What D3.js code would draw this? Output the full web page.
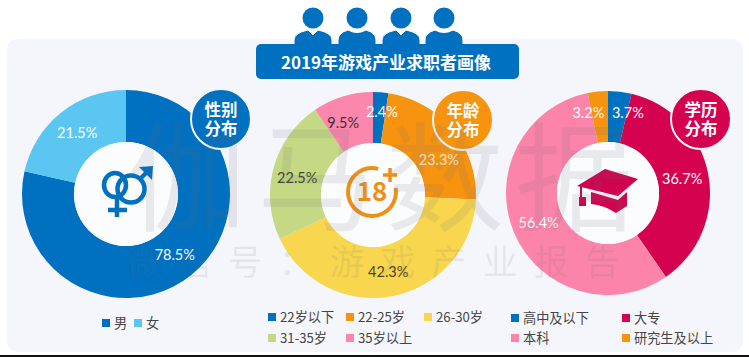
<!DOCTYPE html>
<html>
<head>
	<meta charset="utf-8">
	<title>2019年游戏产业求职者画像</title>
	<script src="https://d3js.org/d3.v7.min.js"></script>
	<style>
		html, body { margin: 0; padding: 0; background: #fff; }
		svg { display: block; }
		text { font-family: "Noto Sans CJK SC", "Noto Sans", sans-serif; }
	</style>
</head>
<body>
	<div class="chart"></div>

	<script type="text/javascript">
		// 数据
		var title = '2019年游戏产业求职者画像'
		var genderLabels = ['男', '女']
		var genderValues = [78.5, 21.5]
		var genderColors = ['#0070c0', '#5cc6f2']

		var ageLabels = ['22岁以下', '22-25岁', '26-30岁', '31-35岁', '35岁以上']
		var ageValues = [2.4, 23.3, 42.3, 22.5, 9.5]
		var ageColors = ['#0070c0', '#f6930f', '#f8d64e', '#c5d985', '#fb87ac']

		var eduLabels = ['高中及以下', '大专', '本科', '研究生及以上']
		var eduValues = [3.7, 36.7, 56.4, 3.2]
		var eduColors = ['#0070c0', '#d4024f', '#fc84aa', '#f6930f']

		var width = 749
		var height = 357

		var svg = d3
			.select('.chart')
			.append('svg')
			.attr('width', width)
			.attr('height', height)

		// 底板
		svg.append('rect')
			.attr('x', 7)
			.attr('y', 39)
			.attr('width', 736)
			.attr('height', 313)
			.attr('rx', 10)
			.attr('fill', '#f5f6fc')
		svg.append('rect')
			.attr('x', 0)
			.attr('y', 355)
			.attr('width', width)
			.attr('height', 2)
			.attr('fill', '#111')

		// 环形图
		function drawDonut(conf) {
			var g = svg.append('g').attr('transform', `translate(${conf.cx}, ${conf.cy})`)
			var pie = d3.pie().sort(null).value(d => d)
			var arc = d3.arc().innerRadius(conf.inner).outerRadius(conf.outer)

			g.selectAll('path')
				.data(pie(conf.values))
				.enter()
				.append('path')
				.attr('d', arc)
				.attr('fill', (d, i) => conf.colors[i])

			g.append('circle').attr('r', conf.inner).attr('fill', '#fbfcfe')

			g.selectAll('text')
				.data(pie(conf.values))
				.enter()
				.append('text')
				.attr('x', (d, i) => arc.centroid(d)[0] + conf.nudge[i][0])
				.attr('y', (d, i) => arc.centroid(d)[1] + conf.nudge[i][1])
				.attr('dy', '0.35em')
				.attr('text-anchor', 'middle')
				.style('font-family', 'Lato, sans-serif')
				.style('font-size', '14.5px')
				.style('fill', (d, i) => conf.textColors[i])
				.text(d => d.value + '%')
			return g
		}

		function drawBadge(x, y, color, line1, line2) {
			var g = svg.append('g').attr('transform', `translate(${x}, ${y})`)
			g.append('circle').attr('r', 30).attr('fill', color).attr('stroke', '#f5f6fc').attr('stroke-width', 2)
			g.selectAll('text')
				.data([line1, line2])
				.enter()
				.append('text')
				.attr('y', (d, i) => i === 0 ? -3 : 16)
				.attr('text-anchor', 'middle')
				.style('font-size', '16.5px')
				.style('font-weight', 700)
				.style('fill', '#fff')
				.text(d => d)
		}

		function drawLegend(items, colors, xs, ys) {
			var g = svg.append('g')
			items.forEach((name, i) => {
				g.append('rect')
					.attr('x', xs[i])
					.attr('y', ys[i] - 4)
					.attr('width', 8)
					.attr('height', 8)
					.attr('fill', colors[i])
				g.append('text')
					.attr('x', xs[i] + 12)
					.attr('y', ys[i])
					.attr('dy', '0.35em')
					.style('font-size', '13.2px')
					.style('fill', '#444')
					.text(name)
			})
		}

		var g1 = drawDonut({
			cx: 126, cy: 194, outer: 104, inner: 52,
			values: genderValues, colors: genderColors,
			textColors: ['#fff', '#fff'],
			nudge: [[0, 0], [0, 0]]
		})
		var g2 = drawDonut({
			cx: 373, cy: 195, outer: 103, inner: 52,
			values: ageValues, colors: ageColors,
			textColors: ['#fff', '#ffe9cf', '#4a4420', '#3f4526', '#4a2a35'],
			nudge: [[3, -6], [6, 14], [0, 1], [-1, 3], [-7, 2]]
		})
		var g3 = drawDonut({
			cx: 608, cy: 193, outer: 102, inner: 51,
			values: eduValues, colors: eduColors,
			textColors: ['#fff', '#fff', '#fff', '#fff'],
			nudge: [[11, -4], [-1, 0], [1, 0], [-12, -4]]
		})

		// 男女符号
		var blue = '#0070c0'
		var gs = g1.append('g').attr('fill', 'none').attr('stroke', blue).attr('stroke-width', 4.5)
		gs.append('ellipse').attr('cx', 5).attr('cy', -5).attr('rx', 13.5).attr('ry', 13.5)
		gs.append('ellipse').attr('cx', -11).attr('cy', -9).attr('rx', 11).attr('ry', 12)
		gs.append('path').attr('d', 'M13-14L23-24')
		gs.append('path').attr('d', 'M-9 3V23M-18 16H1')
		g1.append('path').attr('d', 'M13-27L27-28L26-14Z').attr('fill', blue)

		// 18+
		var orange = '#ee9017'
		g2.append('path')
			.attr('d', d3.arc()
				.innerRadius(22)
				.outerRadius(26)
				.startAngle(Math.PI * 80 / 180)
				.endAngle(Math.PI * 375 / 180)())
			.attr('transform', 'translate(-1, -3)')
			.attr('fill', orange)
		g2.append('path')
			.attr('d', 'M10-20H24M17-27V-13')
			.attr('stroke', orange)
			.attr('stroke-width', 3.5)
			.attr('fill', 'none')
		g2.append('text')
			.attr('x', -1)
			.attr('y', -3)
			.attr('dy', '0.36em')
			.attr('text-anchor', 'middle')
			.style('font-size', '26px')
			.style('font-weight', 700)
			.style('fill', orange)
			.text('18')

		// 学士帽
		var red = '#d0034f'
		g3.append('path').attr('d', 'M-31-7L-3-24L30-14L10 3Z').attr('fill', red)
		g3.append('path').attr('d', 'M-17-1L10 7L19-1V13L8 20Q-4 12-17 11Z').attr('fill', red)
		g3.append('path').attr('d', 'M-27-7V6').attr('stroke', red).attr('stroke-width', 2)
		g3.append('rect').attr('x', -29).attr('y', 4).attr('width', 7).attr('height', 9).attr('fill', red)

		drawBadge(221, 119, '#0070c0', '性别', '分布')
		drawBadge(463, 120, '#f6930f', '年龄', '分布')
		drawBadge(701, 119, '#d4024f', '学历', '分布')

		drawLegend(genderLabels, genderColors, [102, 134], [323, 323])
		drawLegend(ageLabels, ageColors, [268, 346, 424, 268, 346], [317, 317, 317, 338, 338])
		drawLegend(eduLabels, eduColors, [511, 622, 511, 622], [318, 318, 338, 338])

		// 标题与人物
		var peopleX = [313, 357, 401, 444]
		var people = svg.append('g').attr('fill', '#0070c0')
		peopleX.forEach((x, i) => {
			people.append('ellipse').attr('cx', x).attr('cy', 18).attr('rx', 10.5).attr('ry', 10.5)
			var neck = i % 2 === 0
				? `L${x - 5} 30L${x} 35L${x + 5} 30`
				: `Q${x} 35 ${x + 9} 30`
			var start = i % 2 === 0 ? x - 5 : x - 9
			people.append('path')
				.attr('d', `M${x - 19} 46V40Q${x - 19} 33 ${start} 30${neck}Q${x + 19} 33 ${x + 19} 40V46Z`)
				.attr('stroke', '#fff')
				.attr('stroke-width', 1)
		})
		svg.append('rect')
			.attr('x', 256)
			.attr('y', 44)
			.attr('width', 263)
			.attr('height', 35)
			.attr('rx', 5)
			.attr('fill', '#0070c0')
		svg.append('text')
			.attr('x', 386)
			.attr('y', 63)
			.attr('dy', '0.36em')
			.attr('text-anchor', 'middle')
			.style('font-size', '17px')
			.style('font-weight', 700)
			.style('fill', '#fff')
			.text(title)

		// 水印
		var mark = svg.append('g').style('fill', 'rgba(110,110,120,0.13)')
		var markBig = ['伽', '马', '数', '据']
		mark.selectAll('.big')
			.data(markBig)
			.enter()
			.append('text')
			.attr('class', 'big')
			.attr('x', (d, i) => 187 + i * 129)
			.attr('y', 222)
			.attr('text-anchor', 'middle')
			.style('font-size', '118px')
			.text(d => d)
		var markSmall = ['微', '信', '号', '：', '游', '戏', '产', '业', '报', '告']
		mark.selectAll('.small')
			.data(markSmall)
			.enter()
			.append('text')
			.attr('class', 'small')
			.attr('x', (d, i) => 143 + i * 51)
			.attr('y', 275)
			.attr('text-anchor', 'middle')
			.style('font-size', '35px')
			.text(d => d)
	</script>
</body>
</html>
